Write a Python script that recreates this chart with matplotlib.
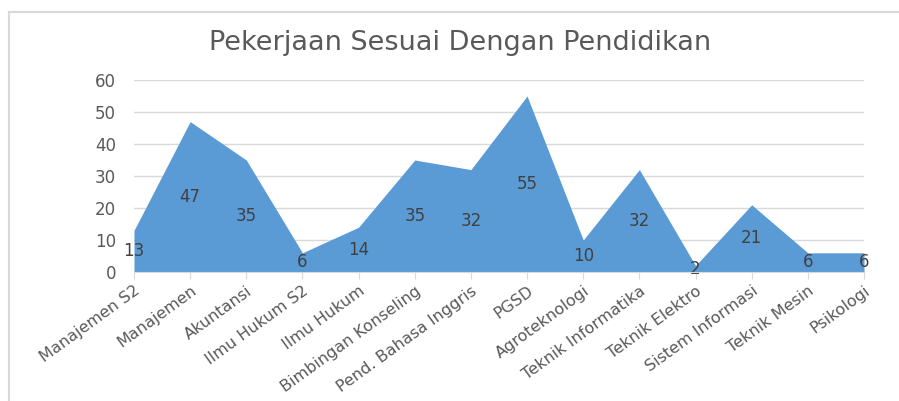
import matplotlib.pyplot as plt
from matplotlib.lines import Line2D

# data
jurusan = ['Manajemen S2', 'Manajemen', 'Akuntansi', 'Ilmu Hukum S2', 'Ilmu Hukum',
           'Bimbingan Konseling', 'Pend. Bahasa Inggris', 'PGSD', 'Agroteknologi',
           'Teknik Informatika', 'Teknik Elektro', 'Sistem Informasi', 'Teknik Mesin',
           'Psikologi']
jumlah = [13, 47, 35, 6, 14, 35, 32, 55, 10, 32, 2, 21, 6, 6]
y_ticks = [0, 10, 20, 30, 40, 50, 60]

plt.rcParams['font.family'] = ['DejaVu Sans']
txt = '#595959'

fig = plt.figure(figsize=(8.99, 4.01), dpi=100)
ax = fig.add_axes([134 / 899, 1 - 272 / 401, (864 - 134) / 899, (272 - 80) / 401])

x = list(range(len(jumlah)))
ax.fill_between(x, jumlah, 0, color='#5B9BD5', lw=0, zorder=2)

# data labels in the middle of the area
for xi, v in zip(x, jumlah):
    ax.text(xi, v / 2, str(v), ha='center', va='center', fontsize=12, color='#404040', zorder=3)

ax.set_xlim(0, len(jumlah) - 1)
ax.set_ylim(0, 60)
ax.set_yticks(y_ticks)
ax.grid(axis='y', color='#d9d9d9', lw=1, zorder=0)
ax.set_axisbelow(True)
for s in ['top', 'right', 'left']:
    ax.spines[s].set_visible(False)
ax.spines['bottom'].set_color('#d9d9d9')
ax.spines['bottom'].set_zorder(4)
ax.tick_params(axis='y', length=0, labelsize=12, labelcolor=txt, pad=13)
ax.tick_params(axis='x', length=5, color='#d9d9d9', labelsize=11.5, labelcolor=txt, pad=3)
ax.set_xticks(x)
ax.set_xticklabels(jurusan, rotation=36, ha='right', rotation_mode='anchor')

fig.text(460 / 899, 1 - 43 / 401, 'Pekerjaan Sesuai Dengan Pendidikan', ha='center', va='center',
         fontsize=19.5, color=txt)

# chart frame
fig.add_artist(Line2D([9 / 899, 9 / 899], [0, 1 - 12 / 401], color='#d9d9d9', lw=1.5,
                      transform=fig.transFigure))
fig.add_artist(Line2D([9 / 899, 1], [1 - 12 / 401, 1 - 12 / 401], color='#d9d9d9', lw=1.5,
                      transform=fig.transFigure))

fig.savefig('out.png', dpi=100)
